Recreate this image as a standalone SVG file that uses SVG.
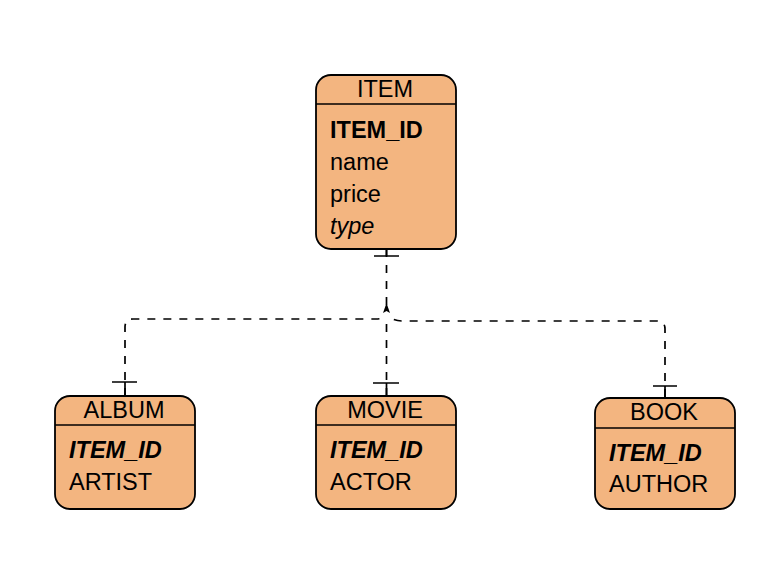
<svg xmlns="http://www.w3.org/2000/svg" width="784" height="580" viewBox="0 0 784 580">
<style>
.box{fill:#F3B580;stroke:#000;stroke-width:1.8}
.sep{stroke:#000;stroke-width:1.6}
text{font-family:"Liberation Sans",Arial,sans-serif;font-size:23.5px;fill:#000}
.hd{text-anchor:middle}
.pk{font-weight:bold}
.fk{font-weight:bold;font-style:italic}
.it{font-style:italic}
.edge{fill:none;stroke:#000;stroke-width:1.7;stroke-dasharray:8 8}
.bar{stroke:#000;stroke-width:1.7;fill:none}
</style>
<rect width="784" height="580" fill="#fff"/>
<g id="connectors">
<path class="edge" d="M386.5,249 V311"/>
<path class="bar" d="M386.5,249 V256 M374,256 H399"/>
<polygon points="386.5,303 390,313 386.5,311 383,313" fill="#000"/>
<path class="edge" d="M125,396 V327 Q125,319 133,319 H376 Q382,319 386.5,316"/>
<path class="bar" d="M125,396 V382 M112,382 H137"/>
<path class="edge" d="M386.5,396 V318"/>
<path class="bar" d="M386.5,396 V383 M373,383 H399"/>
<path class="edge" d="M665,397 V329 Q665,321 657,321 H402 Q395,321 389,317"/>
<path class="bar" d="M665,397 V386 M653,386 H677"/>
</g>
<g id="ITEM">
<rect class="box" x="316" y="75" width="140" height="174" rx="15"/>
<line class="sep" x1="316" y1="104" x2="456" y2="104"/>
<text class="hd" x="385" y="97">ITEM</text>
<text class="pk" x="330" y="138">ITEM_ID</text>
<text x="330" y="170">name</text>
<text x="330" y="202">price</text>
<text class="it" x="330" y="234">type</text>
</g>
<g id="ALBUM">
<rect class="box" x="55" y="396" width="140" height="113" rx="15"/>
<line class="sep" x1="55" y1="425" x2="195" y2="425"/>
<text class="hd" x="124" y="418">ALBUM</text>
<text class="fk" x="69" y="458">ITEM_ID</text>
<text x="69" y="490">ARTIST</text>
</g>
<g id="MOVIE">
<rect class="box" x="316" y="396" width="140" height="113" rx="15"/>
<line class="sep" x1="316" y1="425" x2="456" y2="425"/>
<text class="hd" x="385" y="418">MOVIE</text>
<text class="fk" x="330" y="458">ITEM_ID</text>
<text x="330" y="490">ACTOR</text>
</g>
<g id="BOOK">
<rect class="box" x="595" y="398" width="140" height="111" rx="15"/>
<line class="sep" x1="595" y1="428" x2="735" y2="428"/>
<text class="hd" x="664" y="420">BOOK</text>
<text class="fk" x="609" y="461">ITEM_ID</text>
<text x="609" y="492">AUTHOR</text>
</g>
</svg>
